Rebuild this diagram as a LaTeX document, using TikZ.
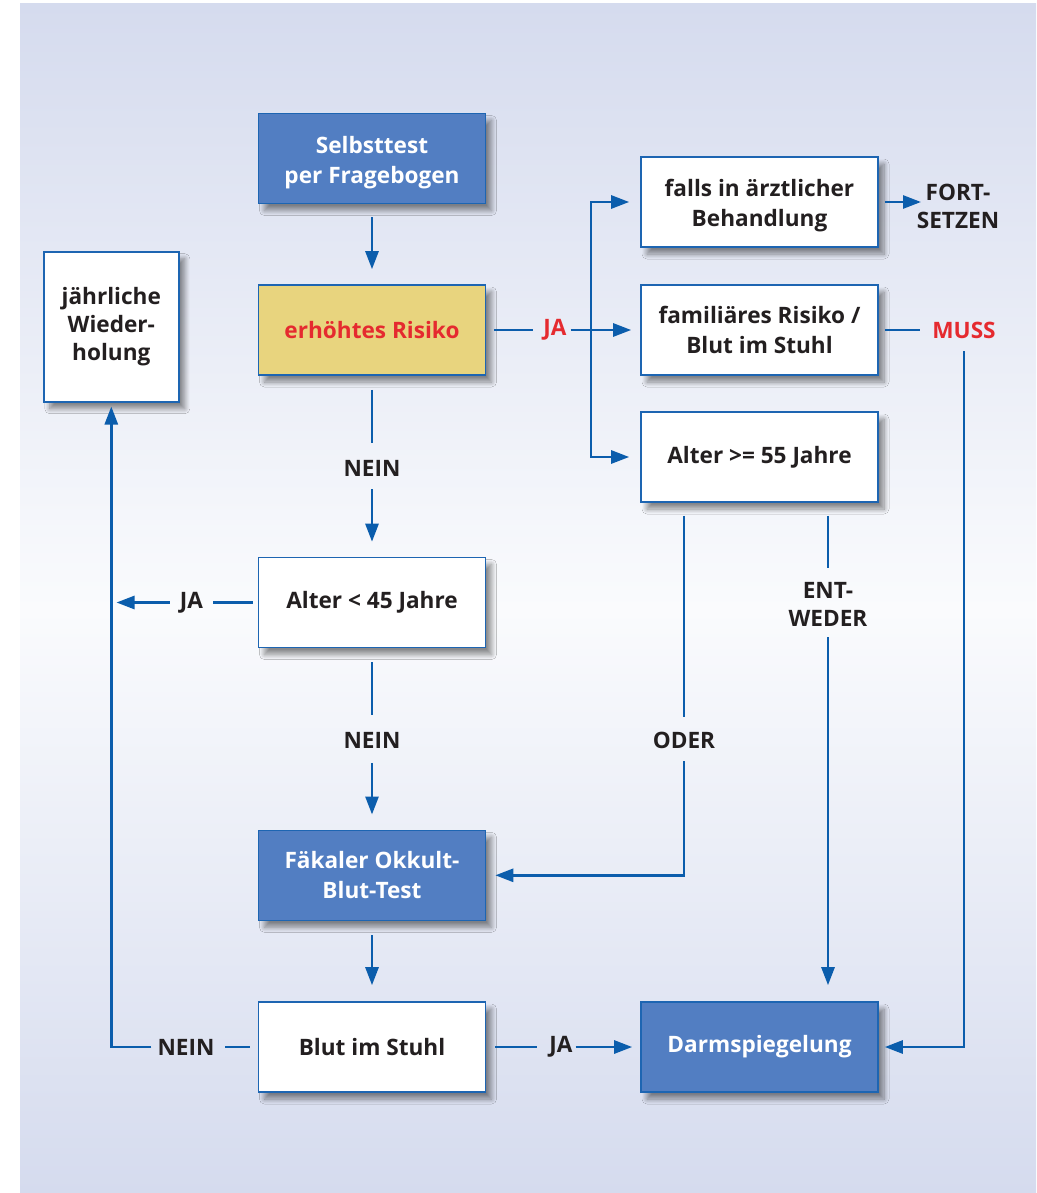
\documentclass[tikz,border=0pt]{standalone}
\usepackage{fontspec}
\setmainfont{Open Sans}
\usetikzlibrary{arrows.meta,calc,shadows.blur}
\definecolor{bgblue}{HTML}{D5DBEE}
\definecolor{bgwhite}{HTML}{FAFBFD}
\definecolor{boxblue}{HTML}{527EC2}
\definecolor{bord}{HTML}{1D65B2}
\definecolor{conn}{HTML}{0B5DAC}
\definecolor{yel}{HTML}{E8D47E}
\definecolor{txt}{HTML}{231F20}
\definecolor{redt}{HTML}{E52A2F}
\newcommand{\lowstrut}{\rule{0pt}{25pt}}
\begin{document}
\begin{tikzpicture}[x=1pt,y=-1pt,
  box/.style={draw=bord,line width=1.6pt,minimum width=227,minimum height=90,align=center,
    font=\bfseries\fontsize{22.6}{30}\selectfont,text=txt,inner sep=0pt,
    blur shadow={shadow xshift=6pt,shadow yshift=-7pt,shadow blur radius=5pt,shadow opacity=45,shadow blur steps=10}},
  bluebox/.style={box,fill=boxblue,text=white},
  whitebox/.style={box,fill=white},
  yelbox/.style={box,fill=yel,text=redt},
  lab/.style={font=\bfseries\fontsize{22.6}{28}\selectfont,text=txt,inner sep=0pt,align=center},
  ln/.style={draw=conn,line width=2.7pt},
  arr/.style={ln,-{Triangle[length=18,width=13]}}
]
\useasboundingbox (0,0) rectangle (1036,1193);
\fill[white] (0,0) rectangle (1036,1193);
\shade[top color=bgblue,bottom color=bgwhite] (20,4) rectangle (1036,610);
\shade[top color=bgwhite,bottom color=bgblue] (20,609.5) rectangle (1036,1193);

% boxes
\node[bluebox] (sel) at (372,158.5) {\lowstrut Selbsttest\\per Fragebogen};
\node[yelbox] (risk) at (372,330) {erhöhtes Risiko};
\node[whitebox,minimum width=135,minimum height=150,font=\bfseries\fontsize{22.6}{28}\selectfont] (jw) at (111.3,326.7) {jährliche\\Wieder-\\holung};
\node[whitebox] (a45) at (372,602.5) {Alter < 45 Jahre};
\node[bluebox] (fob) at (372,875.3) {Fäkaler Okkult-\\Blut-Test};
\node[whitebox] (blut) at (372,1047) {Blut im Stuhl};
\node[whitebox,minimum width=237] (falls) at (759.5,202) {\lowstrut falls in ärztlicher\\Behandlung};
\node[whitebox,minimum width=237] (fam) at (759.5,330) {familiäres Risiko /\\Blut im Stuhl};
\node[whitebox,minimum width=237] (a55) at (759.5,457) {Alter >= 55 Jahre};
\node[bluebox,minimum width=237] (darm) at (759.5,1047) {Darmspiegelung};

% labels
\node[lab] (n1) at (372,468) {NEIN};
\node[lab] (n2) at (372,740.5) {NEIN};
\node[lab] (n3) at (186,1047) {NEIN};
\node[lab,text=redt] (ja1) at (555,330) {JA};
\node[lab] (ja2) at (191.5,602.5) {JA};
\node[lab] (ja3) at (561,1047) {JA};
\node[lab] (fort) at (958,206.5) {FORT-\\SETZEN};
\node[lab,text=redt] (muss) at (964,330) {MUSS};
\node[lab] (oder) at (684,740.5) {ODER};
\node[lab] (ent) at (828,604) {ENT-\\WEDER};

\coordinate (br) at (591,330);
\coordinate (ja2tip) at (116.5,602.5);
\coordinate (forttip) at (921,202);

% connectors
\draw[arr,shorten <=13,shorten >=15] (sel) -- (risk);
\draw[ln,shorten <=14,shorten >=17] (risk) -- (n1);
\draw[arr,shorten <=13,shorten >=15] (n1) -- (a45);
\draw[ln,shorten <=14,shorten >=17] (a45) -- (n2);
\draw[arr,shorten <=14,shorten >=15] (n2) -- (fob);
\draw[arr,shorten <=14,shorten >=16] (fob) -- (blut);

\draw[ln,shorten <=9,shorten >=12] (blut) -- (ja3);
\draw[arr,shorten <=3,shorten >=8] (ja3) -- (darm);

\draw[ln,shorten <=8,shorten >=10] (blut) -- (n3);
\draw[arr,shorten <=6,shorten >=4] (n3.west) -| (jw.south);

\draw[ln,shorten <=5,shorten >=10] (a45) -- (ja2);
\draw[arr,shorten <=10] (ja2) -- (ja2tip);

\draw[ln,shorten <=8,shorten >=10] (risk) -- (ja1);
\draw[arr,shorten <=4,shorten >=9] (ja1) -- (fam);
\draw[arr,shorten >=11] (br) |- (falls);
\draw[arr,shorten >=11] (br) |- (a55);

\draw[arr,shorten <=6] (falls) -- (forttip);

\draw[ln,shorten <=6,shorten >=12] (fam) -- (muss);
\draw[arr,shorten <=13,shorten >=6] (muss) |- (darm);

\draw[ln,shorten <=13,shorten >=15] (oder |- a55.south) -- (oder);
\draw[arr,shorten <=12,shorten >=9] (oder) |- (fob);

\draw[ln,shorten <=13,shorten >=14] (ent |- a55.south) -- (ent);
\draw[arr,shorten <=11,shorten >=16] (ent) -- (ent |- darm.north);
\end{tikzpicture}
\end{document}
